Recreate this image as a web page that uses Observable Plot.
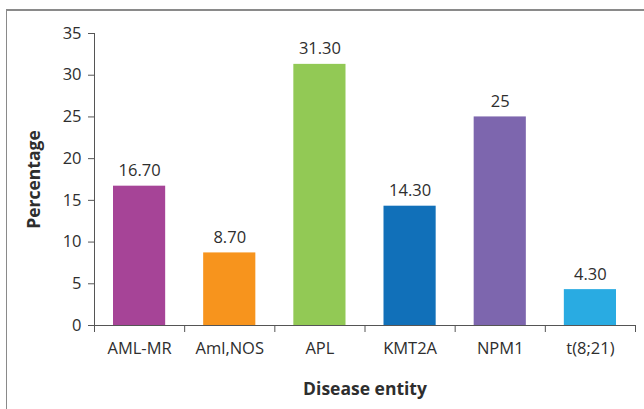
<!DOCTYPE html>
<html>
<head>
<meta charset="utf-8">
<script src="https://cdn.jsdelivr.net/npm/d3@7"></script>
<script src="https://cdn.jsdelivr.net/npm/@observablehq/plot@0.6"></script>
<style>
  html, body { margin: 0; padding: 0; background: #fff; }
  #wrap { position: relative; width: 644px; height: 409px; overflow: hidden; }
  #frame { position: absolute; left: 6px; top: 9px; width: 700px; height: 500px;
           border-left: 1px solid #8a8a8a; border-top: 2px solid #8a8a8a; }
  #chart { position: absolute; left: 0; top: 0; }
</style>
</head>
<body>
<div id="wrap"><div id="frame"></div><div id="chart"></div></div>
<script>
const categories = ["AML-MR", "Aml,NOS", "APL", "KMT2A", "NPM1", "t(8;21)"];
const values = [16.7, 8.7, 31.3, 14.3, 25, 4.3];
const valueLabels = ["16.70", "8.70", "31.30", "14.30", "25", "4.30"];
const colors = ["#A64497", "#F7941D", "#92C955", "#1170B9", "#7D66AE", "#29ABE2"];
const yTicks = [0, 5, 10, 15, 20, 25, 30, 35];

const data = categories.map((c, i) => ({i, c, v: values[i], label: valueLabels[i], color: colors[i]}));
const boundaries = d3.range(categories.length + 1);
const centers = categories.map((c, i) => i + 0.5);

const chart = Plot.plot({
  width: 644,
  height: 409,
  marginLeft: 94,
  marginRight: 9,
  marginTop: 33,
  marginBottom: 84,
  style: {fontFamily: "'Open Sans', sans-serif", fontSize: "16.5px", color: "#2e2e2e", background: "transparent"},
  x: {type: "linear", domain: [0, categories.length]},
  y: {domain: [0, 35]},
  marks: [
    Plot.rectY(data, {x1: d => d.i, x2: d => d.i + 1, y: "v", fill: "color", insetLeft: 19, insetRight: 19}),
    Plot.text(data, {x: d => d.i + 0.5, y: "v", text: "label", dy: -10, lineAnchor: "bottom", fill: "#2e2e2e", fontSize: 16.5}),
    Plot.ruleX([0], {stroke: "#555"}),
    Plot.ruleY([0], {stroke: "#555"}),
    Plot.axisY({ticks: yTicks, tickSize: 6, tickPadding: 7, stroke: "#555", fontSize: 16.5, label: "Percentage", labelAnchor: "center", labelArrow: "none", labelOffset: 67}),
    Plot.axisX({ticks: boundaries, tickSize: 7, tickFormat: () => "", stroke: "#555", label: null}),
    Plot.axisX({ticks: centers, tickSize: 0, tickPadding: 17, fontSize: 16.5, tickFormat: d => categories[Math.floor(d)], label: "Disease entity", labelAnchor: "center", labelArrow: "none", labelOffset: 69})
  ]
});
d3.select(chart).selectAll('g[aria-label="x-axis label"], g[aria-label="y-axis label"]').attr("font-weight", "bold").attr("font-size", "17.5px");
document.getElementById("chart").appendChild(chart);
</script>
</body>
</html>
